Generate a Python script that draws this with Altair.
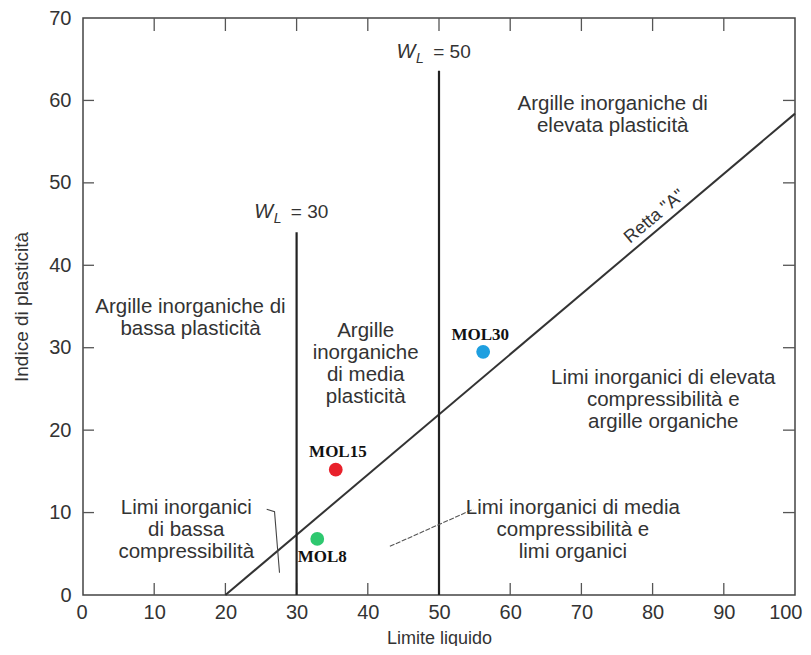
import altair as alt
import pandas as pd

# ---- data ----
x_ticks = [0, 10, 20, 30, 40, 50, 60, 70, 80, 90, 100]
y_ticks = [0, 10, 20, 30, 40, 50, 60, 70]
inner_x_ticks = [10, 20, 30, 40, 50, 60, 70, 80, 90]
inner_y_ticks = [10, 20, 30, 40, 50, 60]

a_line_ll = [20, 100]
a_line_pi = [0, 58.4]

wl_values = [30, 50]
wl_tops = [44.0, 63.6]
wl_label_pi = [45.7, 65.1]
wl_label_eq = ["= 30", "= 50"]

pt_names = ["MOL30", "MOL15", "MOL8"]
pt_ll = [56.2, 35.5, 32.9]
pt_pi = [29.5, 15.2, 6.8]
pt_colors = ["#1e9fe0", "#e8212b", "#2ec86f"]
pt_label_ll = [55.8, 35.8, 33.6]
pt_label_pi = [31.6, 17.3, 4.6]

zone_texts = [
    "Argille inorganiche di\nelevata plasticità",
    "Argille inorganiche di\nbassa plasticità",
    "Argille\ninorganiche\ndi media\nplasticità",
    "Limi inorganici di elevata\ncompressibilità e\nargille organiche",
    "Limi inorganici\ndi bassa\ncompressibilità",
    "Limi inorganici di media\ncompressibilità e\nlimi organici",
]
zone_ll = [74.4, 15.1, 39.7, 81.5, 14.5, 68.8]
zone_pi = [59.6, 34.9, 32.0, 26.3, 10.5, 10.5]

retta_label = 'Retta "A"'
retta_ll = [80.3]
retta_pi = [45.9]

bracket_ll = [25.8, 26.9, 27.6]
bracket_pi = [10.4, 10.1, 2.7]
leader_ll = [43.1, 54.8]
leader_pi = [5.9, 10.4]

# ---- chart ----
W, H = 712, 577
SANS = "Liberation Sans, Arial, Helvetica, sans-serif"
SERIF = "Liberation Serif, Times New Roman, serif"

xs = alt.Scale(domain=[0, 100], nice=False, zero=False)
ys = alt.Scale(domain=[0, 70], nice=False, zero=False)

xaxis = alt.Axis(values=x_ticks, ticks=False, domain=False, grid=False,
                 labelFontSize=20, labelFont=SANS, labelColor="#333",
                 labelPadding=7, labelFlush=True, labelFlushOffset=7,
                 title="Limite liquido", titleFont=SANS, titleFontSize=18,
                 titleFontWeight="normal", titleColor="#333", titlePadding=7)
yaxis = alt.Axis(values=y_ticks, ticks=False, domain=False, grid=False,
                 labelFontSize=20, labelFont=SANS, labelColor="#333",
                 labelPadding=12, labelFlush=False,
                 title="Indice di plasticità", titleFont=SANS, titleFontSize=19,
                 titleFontWeight="normal", titleColor="#333", titlePadding=17)


def X(f):
    return alt.X(f, type="quantitative", scale=xs, axis=xaxis)


def Y(f):
    return alt.Y(f, type="quantitative", scale=ys, axis=yaxis)


a_df = pd.DataFrame({"ll": a_line_ll, "pi": a_line_pi})
wl_df = pd.DataFrame({"ll": wl_values, "top": wl_tops, "base": [0, 0],
                      "lp": wl_label_pi, "eq": wl_label_eq})
pt_df = pd.DataFrame({"name": pt_names, "ll": pt_ll, "pi": pt_pi,
                      "color": pt_colors, "lll": pt_label_ll, "lpi": pt_label_pi})
zone_df = pd.DataFrame({"t": zone_texts, "ll": zone_ll, "pi": zone_pi})
retta_df = pd.DataFrame({"t": [retta_label], "ll": retta_ll, "pi": retta_pi})
br_df = pd.DataFrame({"ll": bracket_ll, "pi": bracket_pi, "o": list(range(len(bracket_ll)))})
ld_df = pd.DataFrame({"ll": leader_ll, "pi": leader_pi})
ix_df = pd.DataFrame({"v": inner_x_ticks})
iy_df = pd.DataFrame({"v": inner_y_ticks})

tick_color = "#555"

bottom_ticks = alt.Chart(ix_df).mark_rule(color=tick_color, strokeWidth=1.3).encode(
    x=X("v"), y=alt.value(H), y2=alt.value(H - 12))
top_ticks = alt.Chart(ix_df).mark_rule(color=tick_color, strokeWidth=1.3).encode(
    x=X("v"), y=alt.value(0), y2=alt.value(13))
left_ticks = alt.Chart(iy_df).mark_rule(color=tick_color, strokeWidth=1.3).encode(
    y=Y("v"), x=alt.value(0), x2=alt.value(11))
right_ticks = alt.Chart(iy_df).mark_rule(color=tick_color, strokeWidth=1.3).encode(
    y=Y("v"), x=alt.value(W), x2=alt.value(W - 12))

a_line = alt.Chart(a_df).mark_line(color="#333", strokeWidth=2).encode(
    x=X("ll"), y=Y("pi"))

wl_lines = alt.Chart(wl_df).mark_rule(color="#222", strokeWidth=2.2).encode(
    x=X("ll"), y=Y("base"), y2="top")

wl_W = alt.Chart(wl_df).mark_text(text="W", font=SANS, fontSize=20, fontStyle="italic",
                                  color="#333", baseline="alphabetic", align="center",
                                  dx=-33).encode(x=X("ll"), y=Y("lp"))
wl_L = alt.Chart(wl_df).mark_text(text="L", font=SANS, fontSize=14, fontStyle="italic",
                                  color="#333", baseline="alphabetic", align="center",
                                  dx=-19, dy=5).encode(x=X("ll"), y=Y("lp"))
wl_eq = alt.Chart(wl_df).mark_text(font=SANS, fontSize=19, color="#333",
                                   baseline="alphabetic", align="center",
                                   dx=13).encode(x=X("ll"), y=Y("lp"), text="eq:N")

bracket = alt.Chart(br_df).mark_line(color="#444", strokeWidth=1.1).encode(
    x=X("ll"), y=Y("pi"), order="o:Q")
leader = alt.Chart(ld_df).mark_line(color="#555", strokeWidth=1.1, strokeDash=[5, 1.5]).encode(
    x=X("ll"), y=Y("pi"))

zones = alt.Chart(zone_df).mark_text(font=SANS, fontSize=20.5, lineHeight=22, color="#333",
                                     align="center", baseline="middle", lineBreak="\n").encode(
    x=X("ll"), y=Y("pi"), text="t:N")

retta = alt.Chart(retta_df).mark_text(font=SANS, fontSize=18, color="#333", angle=320,
                                      align="center", baseline="middle").encode(
    x=X("ll"), y=Y("pi"), text="t:N")

points = alt.Chart(pt_df).mark_circle(size=190, opacity=1).encode(
    x=X("ll"), y=Y("pi"), color=alt.Color("color:N", scale=None))

pt_labels = alt.Chart(pt_df).mark_text(font=SERIF, fontSize=17, fontWeight="bold",
                                       color="#111", align="center", baseline="middle").encode(
    x=X("lll"), y=Y("lpi"), text="name:N")

chart = alt.layer(
    bottom_ticks, top_ticks, left_ticks, right_ticks,
    a_line, wl_lines, bracket, leader,
    zones, retta, wl_W, wl_L, wl_eq,
    points, pt_labels,
).properties(
    width=W, height=H,
    autosize=alt.AutoSizeParams(type="none"),
    padding={"left": 75, "top": 10, "right": 8, "bottom": 51},
    background="white",
).configure_view(stroke="#444", strokeWidth=1.5)

chart.save("out.html", embed_options={"renderer": "svg", "actions": False})
